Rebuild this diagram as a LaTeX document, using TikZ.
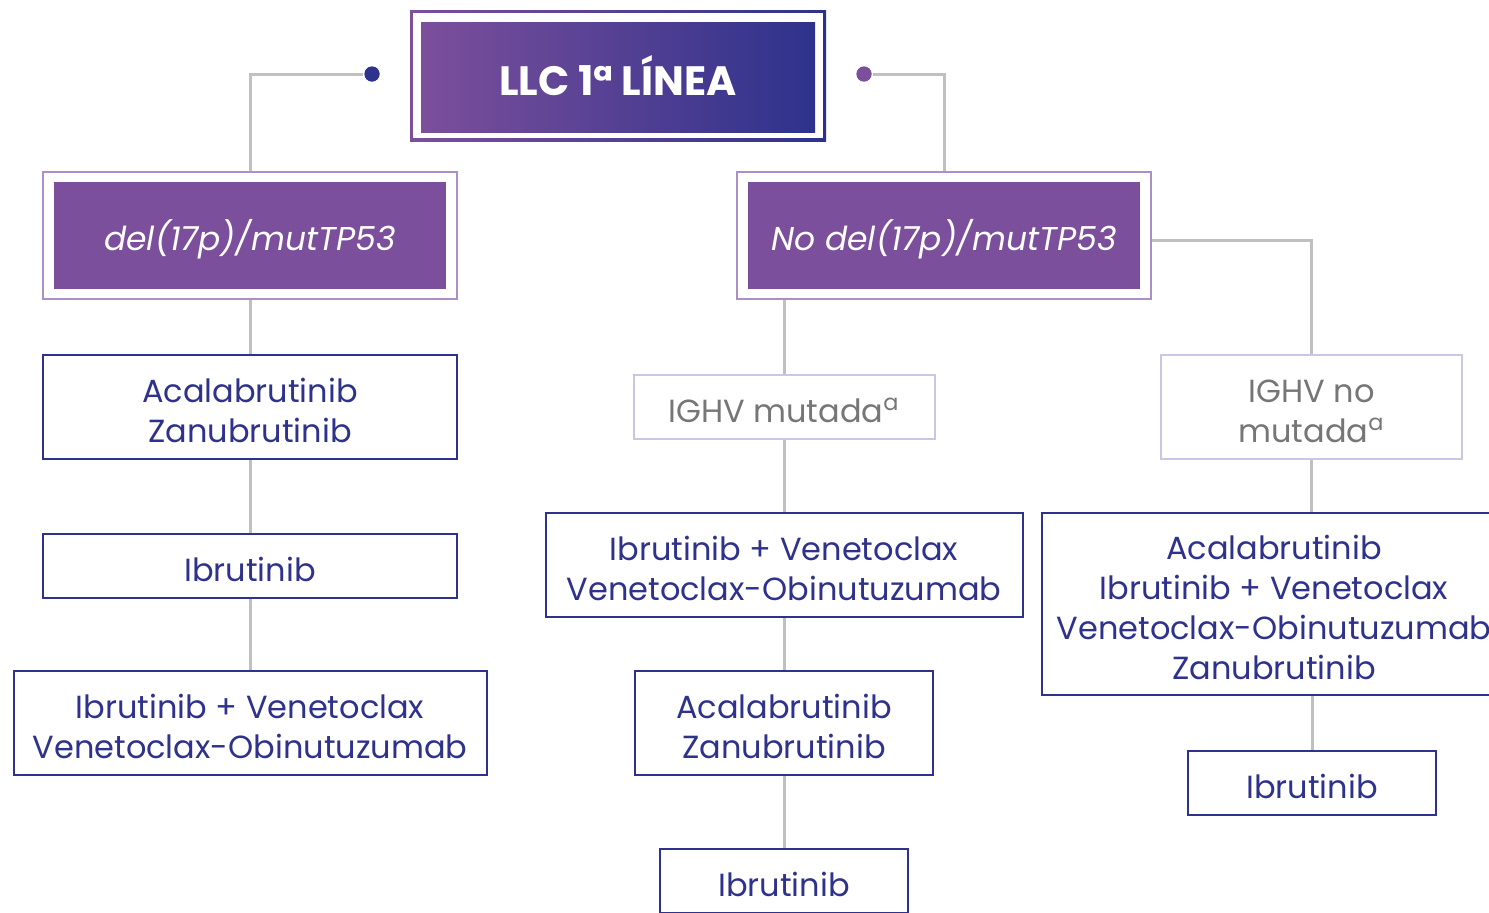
\documentclass[tikz,border=0pt]{standalone}
\usepackage{fontspec}
\setmainfont{Poppins}
\definecolor{navy}{RGB}{46,50,140}
\definecolor{lila}{RGB}{123,79,155}
\definecolor{lilaframe}{RGB}{172,142,200}
\definecolor{ighvframe}{RGB}{202,198,230}
\definecolor{ighvtext}{RGB}{118,118,118}
\definecolor{wire}{RGB}{192,192,192}
\newcommand\lift{\rule{0pt}{16pt}}
\tikzset{
  tx/.style={draw=navy,fill=white,line width=1pt,text=navy,align=center,
    inner sep=0pt,font=\fontsize{16}{20}\selectfont},
  ighv/.style={tx,draw=ighvframe,text=ighvtext},
  group/.style={draw=lilaframe,fill=white,line width=1pt,inner sep=0pt,
    minimum width=207pt,minimum height=63.5pt,text=white,
    font=\fontsize{16.5}{20}\selectfont\itshape,
    path picture={\fill[lila] ([shift={(5.5pt,5pt)}]path picture bounding box.south west)
      rectangle ([shift={(-5.5pt,-5pt)}]path picture bounding box.north east);}},
  dot/.style={circle,inner sep=0pt,minimum size=7.5pt}
}
\begin{document}
\begin{tikzpicture}
  [x=0.5pt,y=-0.5pt,every path/.style={line width=1.5pt}]
  \useasboundingbox (0,0) rectangle (1489,912);
  % top
  \node[inner sep=0pt,minimum width=208pt,minimum height=65.5pt,
    left color=lila,right color=navy,text=white,
    font=\fontsize{20.5}{24}\selectfont\bfseries,
    path picture={
      \fill[white] ([shift={(1.5pt,1.5pt)}]path picture bounding box.south west)
        rectangle ([shift={(-1.5pt,-1.5pt)}]path picture bounding box.north east);
      \shade[left color=lila,right color=navy]
        ([shift={(5.5pt,4.5pt)}]path picture bounding box.south west)
        rectangle ([shift={(-5.5pt,-6pt)}]path picture bounding box.north east);}]
    (top) at (618,75.5) {LLC 1ª LÍNEA};
  \node[dot,fill=navy] (dotL) at (372,74) {};
  \node[dot,fill=lila] (dotR) at (864,74) {};
  % groups
  \node[group] (del) at (250,235.5) {\rule{0pt}{19pt}del(17p)/mutTP53};
  \node[group] (nodel) at (944,235.5) {\rule{0pt}{19pt}No del(17p)/mutTP53};
  % left column
  \node[tx,minimum width=207pt,minimum height=52pt] (lacz) at (250,407) {\lift Acalabrutinib\\Zanubrutinib};
  \node[tx,minimum width=207pt,minimum height=32pt] (libr) at (250,566) {\lift Ibrutinib};
  \node[tx,minimum width=236.5pt,minimum height=52pt] (libv) at (250,723) {\lift Ibrutinib + Venetoclax\\Venetoclax-Obinutuzumab};
  % middle column
  \node[ighv,minimum width=150.5pt,minimum height=32pt] (mmut) at (784,407) {\lift IGHV mutada\textsuperscript{a}};
  \node[tx,minimum width=238.5pt,minimum height=52pt] (miv) at (784,565) {\lift Ibrutinib + Venetoclax\\Venetoclax-Obinutuzumab};
  \node[tx,minimum width=149pt,minimum height=52pt] (macz) at (784,723) {\lift Acalabrutinib\\Zanubrutinib};
  \node[tx,minimum width=124pt,minimum height=32pt] (mibr) at (784,881) {\lift Ibrutinib};
  % right column
  \node[ighv,minimum width=150.5pt,minimum height=52pt] (rno) at (1311.5,407) {\lift IGHV no\\mutada\textsuperscript{a}};
  \node[tx,minimum width=232pt,minimum height=91pt] (rall) at (1274,604) {\lift Acalabrutinib\\Ibrutinib + Venetoclax\\Venetoclax-Obinutuzumab\\Zanubrutinib};
  \node[tx,minimum width=124pt,minimum height=32pt] (ribr) at (1312,783) {\lift Ibrutinib};
  % wires
  \draw[wire] (dotL) -| (del.north);
  \draw[wire] (dotR) -| (nodel.north);
  \draw[wire] ([yshift=-2.5pt]nodel.east) -| (rno.north);
  \draw[wire] (nodel.south -| mmut.north) -- (mmut.north);
  \foreach \from/\to in {del/lacz,lacz/libr,libr/libv,mmut/miv,miv/macz,macz/mibr}
    \draw[wire] (\from.south) -- (\to.north);
  \draw[wire] (rno.south) -- (rno.south |- rall.north);
  \draw[wire] (rall.south -| ribr.north) -- (ribr.north);
  \node[dot,fill=navy] at (dotL) {};
  \node[dot,fill=lila] at (dotR) {};
\end{tikzpicture}
\end{document}
